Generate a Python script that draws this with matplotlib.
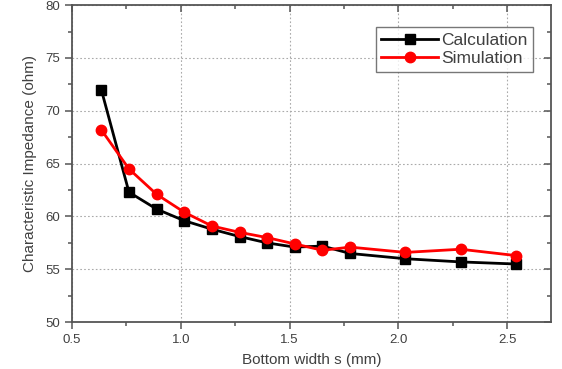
import numpy as np
import matplotlib
matplotlib.use('Agg')
from matplotlib import pyplot as plt
from matplotlib.ticker import MultipleLocator

# bottom width in mm (5 mil steps)
width_mm = [0.635, 0.762, 0.889, 1.016, 1.143, 1.270, 1.397, 1.524,
            1.651, 1.778, 2.032, 2.286, 2.540]
calc_ohm = [72.0, 62.3, 60.7, 59.6, 58.8, 58.1, 57.5, 57.1,
            57.2, 56.5, 56.0, 55.7, 55.5]
sim_ohm = [68.2, 64.5, 62.1, 60.4, 59.1, 58.5, 58.0, 57.4,
           56.8, 57.1, 56.6, 56.9, 56.3]

plt.rcParams['font.family'] = ['Liberation Sans', 'DejaVu Sans']
text_col = '#404040'

fig = plt.figure(figsize=(5.62, 3.69), dpi=100)
ax = fig.add_axes([0.128, 0.127, 0.852, 0.859])

ax.plot(width_mm, calc_ohm, color='black', lw=2, marker='s', ms=6.5,
        label='Calculation', zorder=3)
ax.plot(width_mm, sim_ohm, color='red', lw=2, marker='o', ms=7.5,
        label='Simulation', zorder=3)

ax.set_xlim(0.5, 2.7)
ax.set_ylim(50, 80)
ax.xaxis.set_major_locator(MultipleLocator(0.5))
ax.xaxis.set_minor_locator(MultipleLocator(0.25))
ax.yaxis.set_major_locator(MultipleLocator(5))
ax.yaxis.set_minor_locator(MultipleLocator(2.5))
ax.xaxis.set_major_formatter(matplotlib.ticker.FormatStrFormatter('%.1f'))

ax.grid(True, which='major', color='#aaaaaa', ls=(0, (1.5, 2)), lw=0.8)
ax.set_axisbelow(True)

for s in ax.spines.values():
    s.set_color('#555555')
    s.set_linewidth(1.3)

ax.tick_params(which='both', direction='out', colors='#555555',
               labelcolor=text_col, labelsize=9.5, width=1.1)
ax.tick_params(which='major', length=5)
ax.tick_params(which='minor', length=3)
ax.tick_params(which='both', top=True, right=True, labeltop=False, labelright=False)
# mirror ticks point inward on top and right
for t in ax.xaxis.get_major_ticks() + ax.xaxis.get_minor_ticks():
    t.tick2line.set_marker(3)
for t in ax.yaxis.get_major_ticks() + ax.yaxis.get_minor_ticks():
    t.tick2line.set_marker(0)

ax.set_xlabel('Bottom width s (mm)', fontsize=11, color=text_col, labelpad=5)
ax.set_ylabel('Characteristic Impedance (ohm)', fontsize=11, color=text_col,
              labelpad=6)

leg = ax.legend(loc='upper right', bbox_to_anchor=(0.962, 0.93), fontsize=12.5,
                frameon=True, fancybox=False, edgecolor='#555555',
                handlelength=3.3, handletextpad=0.15, borderpad=0.3,
                labelspacing=0.2, borderaxespad=0)
leg.get_frame().set_linewidth(1.0)
for t in leg.get_texts():
    t.set_color(text_col)

fig.savefig('out.png', dpi=100)
